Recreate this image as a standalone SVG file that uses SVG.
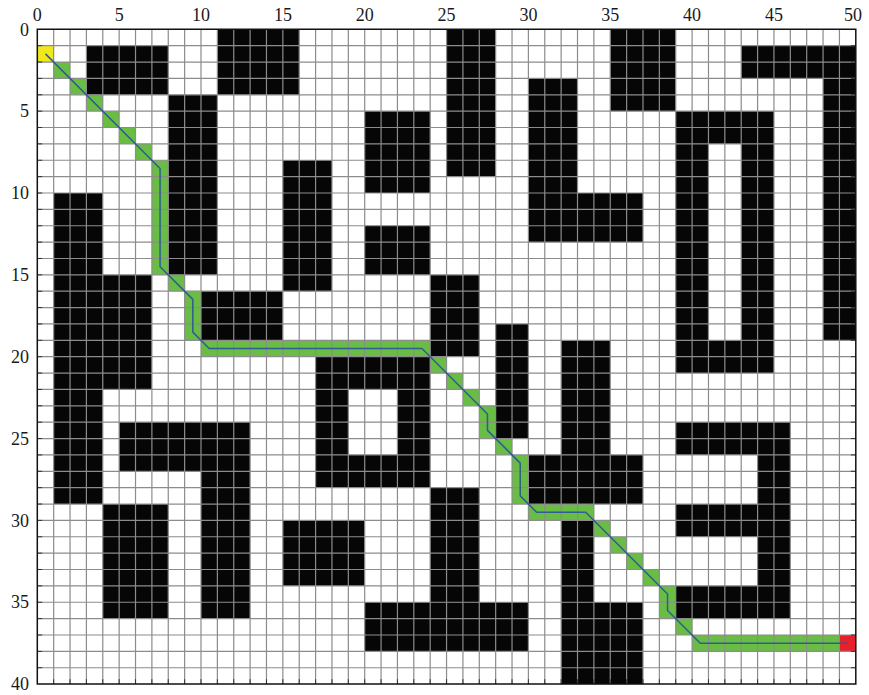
<svg xmlns="http://www.w3.org/2000/svg" width="869" height="695" viewBox="0 0 869 695">
<style>
.b{fill:#060606}
.g{fill:#69bd45}
.grid{stroke:#8c8c8c;stroke-width:1.2;fill:none;vector-effect:non-scaling-stroke}
.tick{stroke:#333;stroke-width:1;fill:none;vector-effect:non-scaling-stroke}
.frame{stroke:#111;stroke-width:1.5;fill:none;vector-effect:non-scaling-stroke}
.path{stroke:#2c5e8f;stroke-width:1.5;fill:none;stroke-linejoin:round;vector-effect:non-scaling-stroke}
text{font-family:"Liberation Serif","DejaVu Serif",serif;font-size:18px;fill:#1a1a1a}
</style>
<rect width="869" height="695" fill="#fff"/>
<g id="plot" transform="translate(37.3,29.3) scale(16.37)">
<rect width="50" height="40" fill="#fff"/>
<g id="obstacles">
<rect class="b" x="11" y="0" width="5" height="4"/>
<rect class="b" x="3" y="1" width="5" height="3"/>
<rect class="b" x="8" y="4" width="3" height="11"/>
<rect class="b" x="15" y="8" width="3" height="8"/>
<rect class="b" x="1" y="10" width="3" height="19"/>
<rect class="b" x="4" y="15" width="3" height="7"/>
<rect class="b" x="10" y="16" width="5" height="3"/>
<rect class="b" x="25" y="0" width="3" height="9"/>
<rect class="b" x="20" y="5" width="4" height="5"/>
<rect class="b" x="20" y="12" width="4" height="3"/>
<rect class="b" x="30" y="3" width="3" height="10"/>
<rect class="b" x="33" y="10" width="4" height="3"/>
<rect class="b" x="35" y="0" width="4" height="5"/>
<rect class="b" x="43" y="1" width="7" height="2"/>
<rect class="b" x="48" y="3" width="2" height="16"/>
<rect class="b" x="39" y="5" width="6" height="2"/>
<rect class="b" x="39" y="7" width="2" height="12"/>
<rect class="b" x="43" y="7" width="2" height="12"/>
<rect class="b" x="39" y="19" width="6" height="2"/>
<rect class="b" x="24" y="15" width="3" height="5"/>
<rect class="b" x="28" y="18" width="2" height="7"/>
<rect class="b" x="17" y="20" width="7" height="2"/>
<rect class="b" x="17" y="22" width="2" height="4"/>
<rect class="b" x="22" y="22" width="2" height="4"/>
<rect class="b" x="17" y="26" width="7" height="2"/>
<rect class="b" x="32" y="19" width="3" height="7"/>
<rect class="b" x="30" y="26" width="7" height="3"/>
<rect class="b" x="32" y="30" width="2" height="5"/>
<rect class="b" x="32" y="35" width="5" height="5"/>
<rect class="b" x="5" y="24" width="8" height="3"/>
<rect class="b" x="10" y="27" width="3" height="9"/>
<rect class="b" x="4" y="29" width="4" height="7"/>
<rect class="b" x="15" y="30" width="5" height="4"/>
<rect class="b" x="24" y="28" width="3" height="7"/>
<rect class="b" x="20" y="35" width="10" height="3"/>
<rect class="b" x="39" y="24" width="7" height="2"/>
<rect class="b" x="44" y="26" width="2" height="10"/>
<rect class="b" x="39" y="29" width="5" height="2"/>
<rect class="b" x="39" y="34" width="5" height="2"/>
</g>
<g id="route-cells">
<rect class="g" x="1" y="2" width="1" height="1"/>
<rect class="g" x="2" y="3" width="1" height="1"/>
<rect class="g" x="3" y="4" width="1" height="1"/>
<rect class="g" x="4" y="5" width="1" height="1"/>
<rect class="g" x="5" y="6" width="1" height="1"/>
<rect class="g" x="6" y="7" width="1" height="1"/>
<rect class="g" x="7" y="8" width="1" height="7"/>
<rect class="g" x="8" y="15" width="1" height="1"/>
<rect class="g" x="9" y="16" width="1" height="3"/>
<rect class="g" x="10" y="19" width="14" height="1"/>
<rect class="g" x="24" y="20" width="1" height="1"/>
<rect class="g" x="25" y="21" width="1" height="1"/>
<rect class="g" x="26" y="22" width="1" height="1"/>
<rect class="g" x="27" y="23" width="1" height="2"/>
<rect class="g" x="28" y="25" width="1" height="1"/>
<rect class="g" x="29" y="26" width="1" height="3"/>
<rect class="g" x="30" y="29" width="4" height="1"/>
<rect class="g" x="34" y="30" width="1" height="1"/>
<rect class="g" x="35" y="31" width="1" height="1"/>
<rect class="g" x="36" y="32" width="1" height="1"/>
<rect class="g" x="37" y="33" width="1" height="1"/>
<rect class="g" x="38" y="34" width="1" height="2"/>
<rect class="g" x="39" y="36" width="1" height="1"/>
<rect class="g" x="40" y="37" width="9" height="1"/>
<rect id="start" x="0" y="1" width="1" height="1" fill="#f0e81c"/>
<rect id="goal" x="49" y="37" width="1" height="1" fill="#e6212b"/>
</g>
<path id="grid" class="grid" d="M1 0V40M2 0V40M3 0V40M4 0V40M5 0V40M6 0V40M7 0V40M8 0V40M9 0V40M10 0V40M11 0V40M12 0V40M13 0V40M14 0V40M15 0V40M16 0V40M17 0V40M18 0V40M19 0V40M20 0V40M21 0V40M22 0V40M23 0V40M24 0V40M25 0V40M26 0V40M27 0V40M28 0V40M29 0V40M30 0V40M31 0V40M32 0V40M33 0V40M34 0V40M35 0V40M36 0V40M37 0V40M38 0V40M39 0V40M40 0V40M41 0V40M42 0V40M43 0V40M44 0V40M45 0V40M46 0V40M47 0V40M48 0V40M49 0V40M0 1H50M0 2H50M0 3H50M0 4H50M0 5H50M0 6H50M0 7H50M0 8H50M0 9H50M0 10H50M0 11H50M0 12H50M0 13H50M0 14H50M0 15H50M0 16H50M0 17H50M0 18H50M0 19H50M0 20H50M0 21H50M0 22H50M0 23H50M0 24H50M0 25H50M0 26H50M0 27H50M0 28H50M0 29H50M0 30H50M0 31H50M0 32H50M0 33H50M0 34H50M0 35H50M0 36H50M0 37H50M0 38H50M0 39H50"/>
<path id="ticks" class="tick" d="M0 1h0.3M0 2h0.3M0 3h0.3M0 4h0.3M0 5h0.3M0 6h0.3M0 7h0.3M0 8h0.3M0 9h0.3M0 10h0.3M0 11h0.3M0 12h0.3M0 13h0.3M0 14h0.3M0 15h0.3M0 16h0.3M0 17h0.3M0 18h0.3M0 19h0.3M0 20h0.3M0 21h0.3M0 22h0.3M0 23h0.3M0 24h0.3M0 25h0.3M0 26h0.3M0 27h0.3M0 28h0.3M0 29h0.3M0 30h0.3M0 31h0.3M0 32h0.3M0 33h0.3M0 34h0.3M0 35h0.3M0 36h0.3M0 37h0.3M0 38h0.3M0 39h0.3M50 1h-0.3M50 2h-0.3M50 3h-0.3M50 4h-0.3M50 5h-0.3M50 6h-0.3M50 7h-0.3M50 8h-0.3M50 9h-0.3M50 10h-0.3M50 11h-0.3M50 12h-0.3M50 13h-0.3M50 14h-0.3M50 15h-0.3M50 16h-0.3M50 17h-0.3M50 18h-0.3M50 19h-0.3M50 20h-0.3M50 21h-0.3M50 22h-0.3M50 23h-0.3M50 24h-0.3M50 25h-0.3M50 26h-0.3M50 27h-0.3M50 28h-0.3M50 29h-0.3M50 30h-0.3M50 31h-0.3M50 32h-0.3M50 33h-0.3M50 34h-0.3M50 35h-0.3M50 36h-0.3M50 37h-0.3M50 38h-0.3M50 39h-0.3M1 40v-0.3M2 40v-0.3M3 40v-0.3M4 40v-0.3M5 40v-0.3M6 40v-0.3M7 40v-0.3M8 40v-0.3M9 40v-0.3M10 40v-0.3M11 40v-0.3M12 40v-0.3M13 40v-0.3M14 40v-0.3M15 40v-0.3M16 40v-0.3M17 40v-0.3M18 40v-0.3M19 40v-0.3M20 40v-0.3M21 40v-0.3M22 40v-0.3M23 40v-0.3M24 40v-0.3M25 40v-0.3M26 40v-0.3M27 40v-0.3M28 40v-0.3M29 40v-0.3M30 40v-0.3M31 40v-0.3M32 40v-0.3M33 40v-0.3M34 40v-0.3M35 40v-0.3M36 40v-0.3M37 40v-0.3M38 40v-0.3M39 40v-0.3M40 40v-0.3M41 40v-0.3M42 40v-0.3M43 40v-0.3M44 40v-0.3M45 40v-0.3M46 40v-0.3M47 40v-0.3M48 40v-0.3M49 40v-0.3"/>
<rect class="frame" x="0" y="0" width="50" height="40"/>
<g id="connectors">
<polyline class="path" points="0.5,1.5 7.5,8.5 7.5,14.5 9.5,16.5 9.5,18.5 10.5,19.5 23.5,19.5 27.5,23.5 27.5,24.5 29.5,26.5 29.5,28.5 30.5,29.5 33.5,29.5 38.5,34.5 38.5,35.5 40.5,37.5 49.5,37.5"/>
</g>
</g>
<g id="x-labels" text-anchor="middle">
<text x="37.3" y="21">0</text>
<text x="119.2" y="21">5</text>
<text x="201" y="21">10</text>
<text x="282.9" y="21">15</text>
<text x="364.7" y="21">20</text>
<text x="446.6" y="21">25</text>
<text x="528.4" y="21">30</text>
<text x="610.3" y="21">35</text>
<text x="692.1" y="21">40</text>
<text x="774" y="21">45</text>
<text x="853" y="21">50</text>
</g>
<g id="y-labels" text-anchor="end">
<text x="29" y="35.5">0</text>
<text x="29" y="117.3">5</text>
<text x="29" y="199.2">10</text>
<text x="29" y="281">15</text>
<text x="29" y="362.9">20</text>
<text x="29" y="444.7">25</text>
<text x="29" y="526.6">30</text>
<text x="29" y="608.4">35</text>
<text x="29" y="690.3">40</text>
</g>
</svg>
